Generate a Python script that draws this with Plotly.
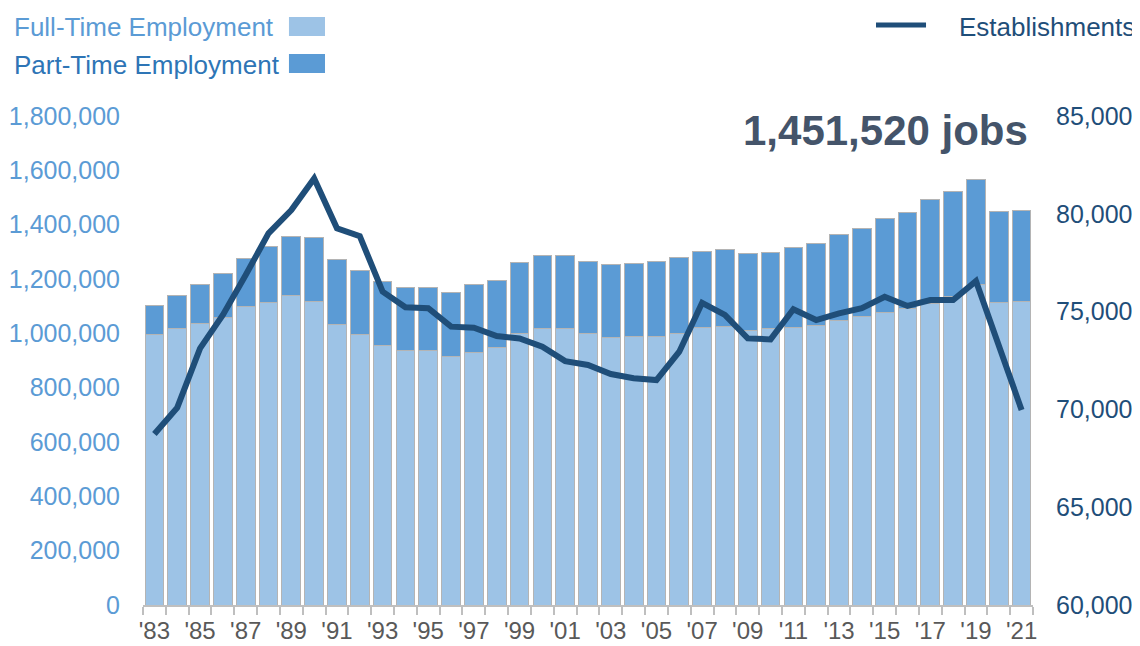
import plotly.graph_objects as go

years = list(range(1983, 2022))
full_time = [994000, 1016000, 1035000, 1058000, 1100000, 1115000, 1139000, 1119000,
             1032000, 994000, 956000, 936000, 936000, 914000, 929000, 947000,
             998000, 1017000, 1017000, 998000, 983000, 990000, 990000, 1001000,
             1021000, 1025000, 1010000, 1016000, 1023000, 1028000, 1046000, 1061000,
             1077000, 1092000, 1110000, 1135000, 1179000, 1115000, 1119000]
total = [1104000, 1141000, 1179000, 1222000, 1275000, 1320000, 1355000, 1351000,
         1270000, 1233000, 1191000, 1169000, 1169000, 1152000, 1180000, 1196000,
         1260000, 1287000, 1287000, 1264000, 1253000, 1256000, 1264000, 1280000,
         1302000, 1309000, 1295000, 1298000, 1317000, 1331000, 1362000, 1385000,
         1423000, 1443000, 1494000, 1523000, 1568000, 1450300, 1451520]
part_time = [t - f for t, f in zip(total, full_time)]
establishments = [68740, 70090, 73120, 74830, 76870, 79000, 80190, 81810,
                  79260, 78860, 76020, 75220, 75170, 74230, 74180, 73750,
                  73630, 73200, 72470, 72270, 71810, 71590, 71500, 72950,
                  75450, 74830, 73630, 73580, 75120, 74570, 74910, 75170,
                  75760, 75290, 75590, 75590, 76560, 73200, 69970]
tick_years = years[::2]
tick_labels = ["'" + str(y)[2:] for y in tick_years]

FT_COLOR = "#9dc3e6"
PT_COLOR = "#5b9bd5"
LINE_COLOR = "#1f4e79"
FONT = "Liberation Sans, Arial, sans-serif"

fig = go.Figure()
fig.add_trace(go.Bar(x=years, y=full_time, name="Full-Time Employment",
                     marker=dict(color=FT_COLOR, line=dict(color="#b4b4b4", width=1))))
fig.add_trace(go.Bar(x=years, y=part_time, name="Part-Time Employment",
                     marker=dict(color=PT_COLOR, line=dict(color="#b4b4b4", width=1))))
fig.add_trace(go.Scatter(x=years, y=establishments, name="Establishments", yaxis="y2",
                         mode="lines", line=dict(color=LINE_COLOR, width=6)))

fig.update_layout(
    width=1140, height=646,
    barmode="stack", bargap=0.18,
    plot_bgcolor="white", paper_bgcolor="white",
    margin=dict(l=135, r=115, t=108, b=49, autoexpand=False),
    showlegend=False,
    font=dict(family=FONT),
    xaxis=dict(range=[1982.5, 2021.5], tickmode="array", tickvals=tick_years,
               ticktext=tick_labels, ticks="", showgrid=False, automargin=False,
               showline=True, linecolor="#bfbfbf", linewidth=1.5,
               tickfont=dict(size=24, color="#595959"), ticklabelstandoff=3,
               minor=dict(tick0=1982.5, dtick=1, ticks="outside", ticklen=8,
                          tickcolor="#bfbfbf", tickwidth=1.5, showgrid=False)),
    yaxis=dict(range=[0, 1800000], dtick=200000, tickformat=",", showgrid=False,
               zeroline=False, showline=False, ticks="", ticklabelstandoff=22,
               automargin=False,
               tickfont=dict(size=25, color=PT_COLOR)),
    yaxis2=dict(range=[60000, 85000], dtick=5000, tickformat=",", overlaying="y",
                side="right", showgrid=False, zeroline=False, showline=False,
                ticks="", ticklabelstandoff=22, automargin=False,
                tickfont=dict(size=25, color=LINE_COLOR)),
)

# Title annotation
fig.add_annotation(xref="paper", yref="paper", x=0.997, y=0.971, xanchor="right", yanchor="middle",
                   text="<b>1,451,520 jobs</b>", showarrow=False,
                   font=dict(size=42, color="#44546a"))

# Custom legend (text left, swatch right)
fig.add_annotation(xref="paper", yref="paper", x=-0.1472, y=1.182, xanchor="left", yanchor="middle",
                   text="Full-Time Employment", showarrow=False,
                   font=dict(size=26, color=PT_COLOR))
fig.add_annotation(xref="paper", yref="paper", x=-0.1472, y=1.104, xanchor="left", yanchor="middle",
                   text="Part-Time Employment", showarrow=False,
                   font=dict(size=26, color="#2e75b6"))
fig.add_annotation(xref="paper", yref="paper", x=1.1169, y=1.182, xanchor="right", yanchor="middle",
                   text="Establishments", showarrow=False,
                   font=dict(size=26, color=LINE_COLOR))
fig.add_shape(type="rect", xref="paper", yref="paper", x0=0.164, x1=0.2045, y0=1.1636, y1=1.2025,
              fillcolor=FT_COLOR, line=dict(width=0))
fig.add_shape(type="rect", xref="paper", yref="paper", x0=0.164, x1=0.2045, y0=1.0879, y1=1.1268,
              fillcolor=PT_COLOR, line=dict(width=0))
fig.add_shape(type="line", xref="paper", yref="paper", x0=0.8236, x1=0.8798, y0=1.186, y1=1.186,
              line=dict(color=LINE_COLOR, width=5))

fig.write_html("out.html")
